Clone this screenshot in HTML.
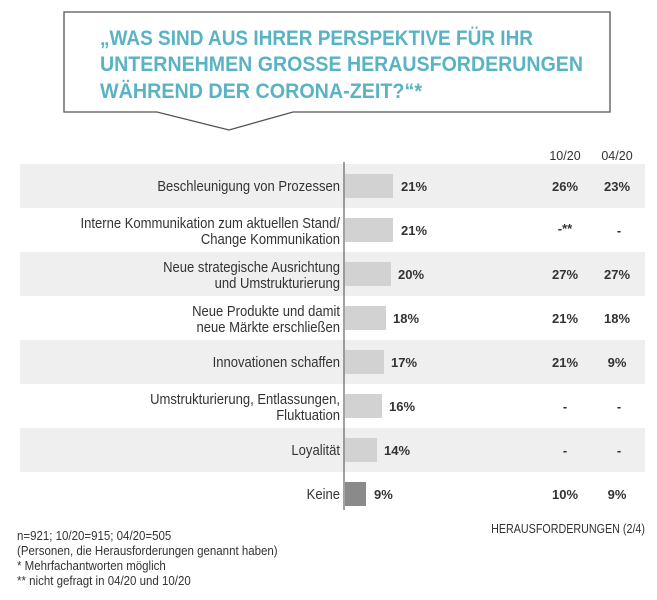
<!DOCTYPE html>
<html><head><meta charset="utf-8"><style>
body{margin:0;background:#fff}
svg{display:block}
text{font-family:"Liberation Sans",sans-serif}
</style></head><body>
<svg width="657" height="600" viewBox="0 0 657 600" xmlns="http://www.w3.org/2000/svg">
<rect width="657" height="600" fill="#fff"/>
<path d="M64,12 H610 V112 H293 L229,130 L157,112 H64 Z" fill="#fff" stroke="#555" stroke-width="1.3"/>
<g fill="#5ab3c5" font-weight="bold" font-size="21">
<text x="100" y="45" textLength="433" lengthAdjust="spacingAndGlyphs">„WAS SIND AUS IHRER PERSPEKTIVE FÜR IHR</text>
<text x="100" y="71" textLength="483" lengthAdjust="spacingAndGlyphs">UNTERNEHMEN GROSSE HERAUSFORDERUNGEN</text>
<text x="100" y="98" textLength="322" lengthAdjust="spacingAndGlyphs">WÄHREND DER CORONA-ZEIT?“*</text>
</g>
<g fill="#333" font-size="12.5">
<text x="565" y="160" text-anchor="middle">10/20</text>
<text x="617" y="160" text-anchor="middle">04/20</text>
</g>
<g fill="#efefef">
<rect x="20" y="164" width="625" height="44"/>
<rect x="20" y="252" width="625" height="44"/>
<rect x="20" y="340" width="625" height="44"/>
<rect x="20" y="428" width="625" height="44"/>
</g>
<line x1="344" y1="162" x2="344" y2="510" stroke="#444" stroke-width="1"/>
<g fill="#d2d2d2">
<rect x="345" y="174" width="48" height="24"/>
<rect x="345" y="218" width="48" height="24"/>
<rect x="345" y="262" width="46" height="24"/>
<rect x="345" y="306" width="41" height="24"/>
<rect x="345" y="350" width="39" height="24"/>
<rect x="345" y="394" width="37" height="24"/>
<rect x="345" y="438" width="32" height="24"/>
</g>
<rect x="345" y="482" width="21" height="24" fill="#8a8a8a"/>
<g fill="#333" font-size="15" text-anchor="end" transform="translate(340,0) scale(0.87,1) translate(-340,0)">
<text x="340" y="191">Beschleunigung von Prozessen</text>
<text x="340" y="228">Interne Kommunikation zum aktuellen Stand/</text>
<text x="340" y="244">Change Kommunikation</text>
<text x="340" y="272">Neue strategische Ausrichtung</text>
<text x="340" y="288">und Umstrukturierung</text>
<text x="340" y="316">Neue Produkte und damit</text>
<text x="340" y="332">neue Märkte erschließen</text>
<text x="340" y="367">Innovationen schaffen</text>
<text x="340" y="404">Umstrukturierung, Entlassungen,</text>
<text x="340" y="420">Fluktuation</text>
<text x="340" y="455">Loyalität</text>
<text x="340" y="499">Keine</text>
</g>
<g fill="#333" font-size="13" font-weight="bold">
<text x="401" y="191">21%</text>
<text x="401" y="235">21%</text>
<text x="398" y="279">20%</text>
<text x="393" y="323">18%</text>
<text x="391" y="367">17%</text>
<text x="389" y="411">16%</text>
<text x="384" y="455">14%</text>
<text x="374" y="499">9%</text>
</g>
<g fill="#333" font-size="13" font-weight="bold" text-anchor="middle">
<text x="565" y="191">26%</text><text x="617" y="191">23%</text>
<text x="565" y="233">-**</text><text x="619" y="235">-</text>
<text x="565" y="279">27%</text><text x="617" y="279">27%</text>
<text x="565" y="323">21%</text><text x="617" y="323">18%</text>
<text x="565" y="367">21%</text><text x="617" y="367">9%</text>
<text x="565" y="411">-</text><text x="619" y="411">-</text>
<text x="565" y="455">-</text><text x="619" y="455">-</text>
<text x="565" y="499">10%</text><text x="617" y="499">9%</text>
</g>
<g fill="#333" font-size="12.5" transform="translate(17,0) scale(0.92,1) translate(-17,0)">
<text x="17" y="540">n=921; 10/20=915; 04/20=505</text>
<text x="17" y="555">(Personen, die Herausforderungen genannt haben)</text>
<text x="17" y="570">* Mehrfachantworten möglich</text>
<text x="17" y="585">** nicht gefragt in 04/20 und 10/20</text>
</g>
<text x="645" y="533" text-anchor="end" fill="#333" font-size="12.5" transform="translate(645,0) scale(0.86,1) translate(-645,0)">HERAUSFORDERUNGEN (2/4)</text>
</svg>
</body></html>
